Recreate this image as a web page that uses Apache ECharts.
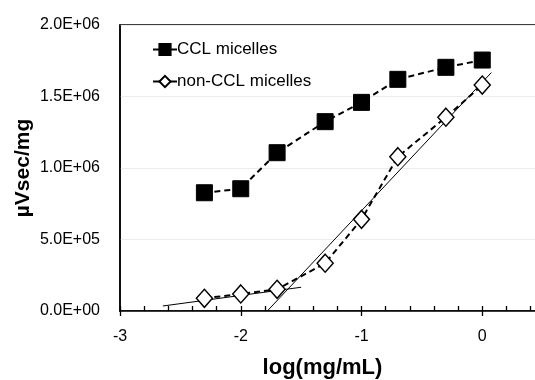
<!DOCTYPE html>
<html>
<head>
<meta charset="utf-8">
<script src="https://cdn.jsdelivr.net/npm/echarts@6/dist/echarts.min.js"></script>
<style>html,body{margin:0;padding:0;background:#fff;}#c{width:535px;height:380px;}</style>
</head>
<body>
<div id="c"></div>
<script>
// Data
const logConc = [-2.301, -2.0, -1.699, -1.301, -1.0, -0.699, -0.301, 0.0];
const cclValues = [827000, 855000, 1107000, 1324000, 1459000, 1620000, 1704000, 1755000];
const nonCclValues = [89000, 119000, 152000, 334000, 641000, 1079000, 1355000, 1580000];
const fitLowX = [-2.645, -1.50];
const fitLowY = [35000, 166000];
const fitHighX = [-1.78, 0.075];
const fitHighY = [0, 1667000];
const seriesNames = ['CCL micelles', 'non-CCL micelles'];
const xTicks = [-3, -2, -1, 0];
const yTicks = [0, 500000, 1000000, 1500000, 2000000];

const zip = (xs, ys) => xs.map((x, i) => [x, ys[i]]);
const fmtExp = v => {
  const parts = Number(v).toExponential(1).toUpperCase().split('E');
  const sign = parts[1][0] === '-' ? '-' : '+';
  const d = parts[1].replace(/[+-]/, '');
  return parts[0] + 'E' + sign + (d.length < 2 ? '0' + d : d);
};
const FONT = 'Liberation Sans';

const chart = echarts.init(document.getElementById('c'), null, {renderer: 'canvas'});
chart.setOption({
  animation: false,
  backgroundColor: '#fff',
  grid: {left: 120, top: 25, bottom: 69, right: -68, outerBoundsMode: 'none', containLabel: false,
    show: true, borderColor: '#000', borderWidth: 1.5, backgroundColor: 'transparent'},
  legend: {
    data: seriesNames.map(n => ({name: n})),
    orient: 'vertical', left: 147, top: 36,
    itemWidth: 24, itemHeight: 14, itemGap: 15,
    textStyle: {fontFamily: FONT, fontSize: 17, color: '#000', padding: [0, 0, 0, -5]},
    lineStyle: {type: 'solid', width: 2}
  },
  xAxis: [{
    type: 'value', min: -3, max: 1, interval: 1,
    name: 'log(mg/mL)', nameLocation: 'middle', nameGap: 46, nameMoveOverlap: false,
    nameTextStyle: {fontFamily: FONT, fontSize: 22, fontWeight: 'bold', color: '#000', padding: [0, 78, 0, 0]},
    axisLine: {onZero: false, lineStyle: {color: '#000', width: 1.5}},
    axisTick: {show: true, inside: true, length: 5, lineStyle: {color: '#000', width: 1.3}},
    minorTick: {show: true, splitNumber: 5, length: 5, lineStyle: {color: '#000', width: 1.3}},
    axisLabel: {fontFamily: FONT, fontSize: 16, color: '#000', margin: 18,
      formatter: v => xTicks.indexOf(v) >= 0 ? String(v) : ''},
    splitLine: {show: false}
  }, {
    type: 'value', min: -3, max: 1, interval: 1, gridIndex: 0, position: 'bottom',
    axisLine: {show: false, onZero: false},
    axisTick: {show: true, inside: false, length: 5, lineStyle: {color: '#000', width: 1.3}},
    axisLabel: {show: false}, splitLine: {show: false}
  }],
  yAxis: {
    type: 'value', min: 0, max: 2000000, interval: 500000,
    name: 'µVsec/mg', nameLocation: 'middle', nameGap: 86, nameMoveOverlap: false,
    nameTextStyle: {fontFamily: FONT, fontSize: 21, fontWeight: 'bold', color: '#000'},
    axisLine: {show: true, onZero: false, lineStyle: {color: '#000', width: 1.5}},
    axisTick: {show: false},
    axisLabel: {fontFamily: FONT, fontSize: 16, color: '#000', margin: 20,
      formatter: v => yTicks.indexOf(v) >= 0 ? fmtExp(v) : ''},
    splitLine: {show: true, lineStyle: {color: '#ececec', width: 1}}
  },
  series: [
    {
      name: 'fitLow', type: 'line', data: zip(fitLowX, fitLowY), symbol: 'none',
      lineStyle: {color: '#000', width: 1}, z: 2, silent: true
    },
    {
      name: 'fitHigh', type: 'line', data: zip(fitHighX, fitHighY), symbol: 'none',
      lineStyle: {color: '#000', width: 1}, z: 2, silent: true
    },
    {
      name: seriesNames[0], type: 'line', data: zip(logConc, cclValues),
      symbol: 'rect', symbolSize: 16,
      itemStyle: {color: '#000', borderColor: '#000', borderWidth: 1},
      lineStyle: {color: '#000', width: 2, type: [6, 4]}, z: 3
    },
    {
      name: seriesNames[1], type: 'line', data: zip(logConc, nonCclValues),
      symbol: 'diamond', symbolSize: [16, 18],
      itemStyle: {color: '#fff', borderColor: '#000', borderWidth: 1.5},
      lineStyle: {color: '#000', width: 2, type: [6, 4]}, z: 4
    }
  ]
});
</script>
</body>
</html>
